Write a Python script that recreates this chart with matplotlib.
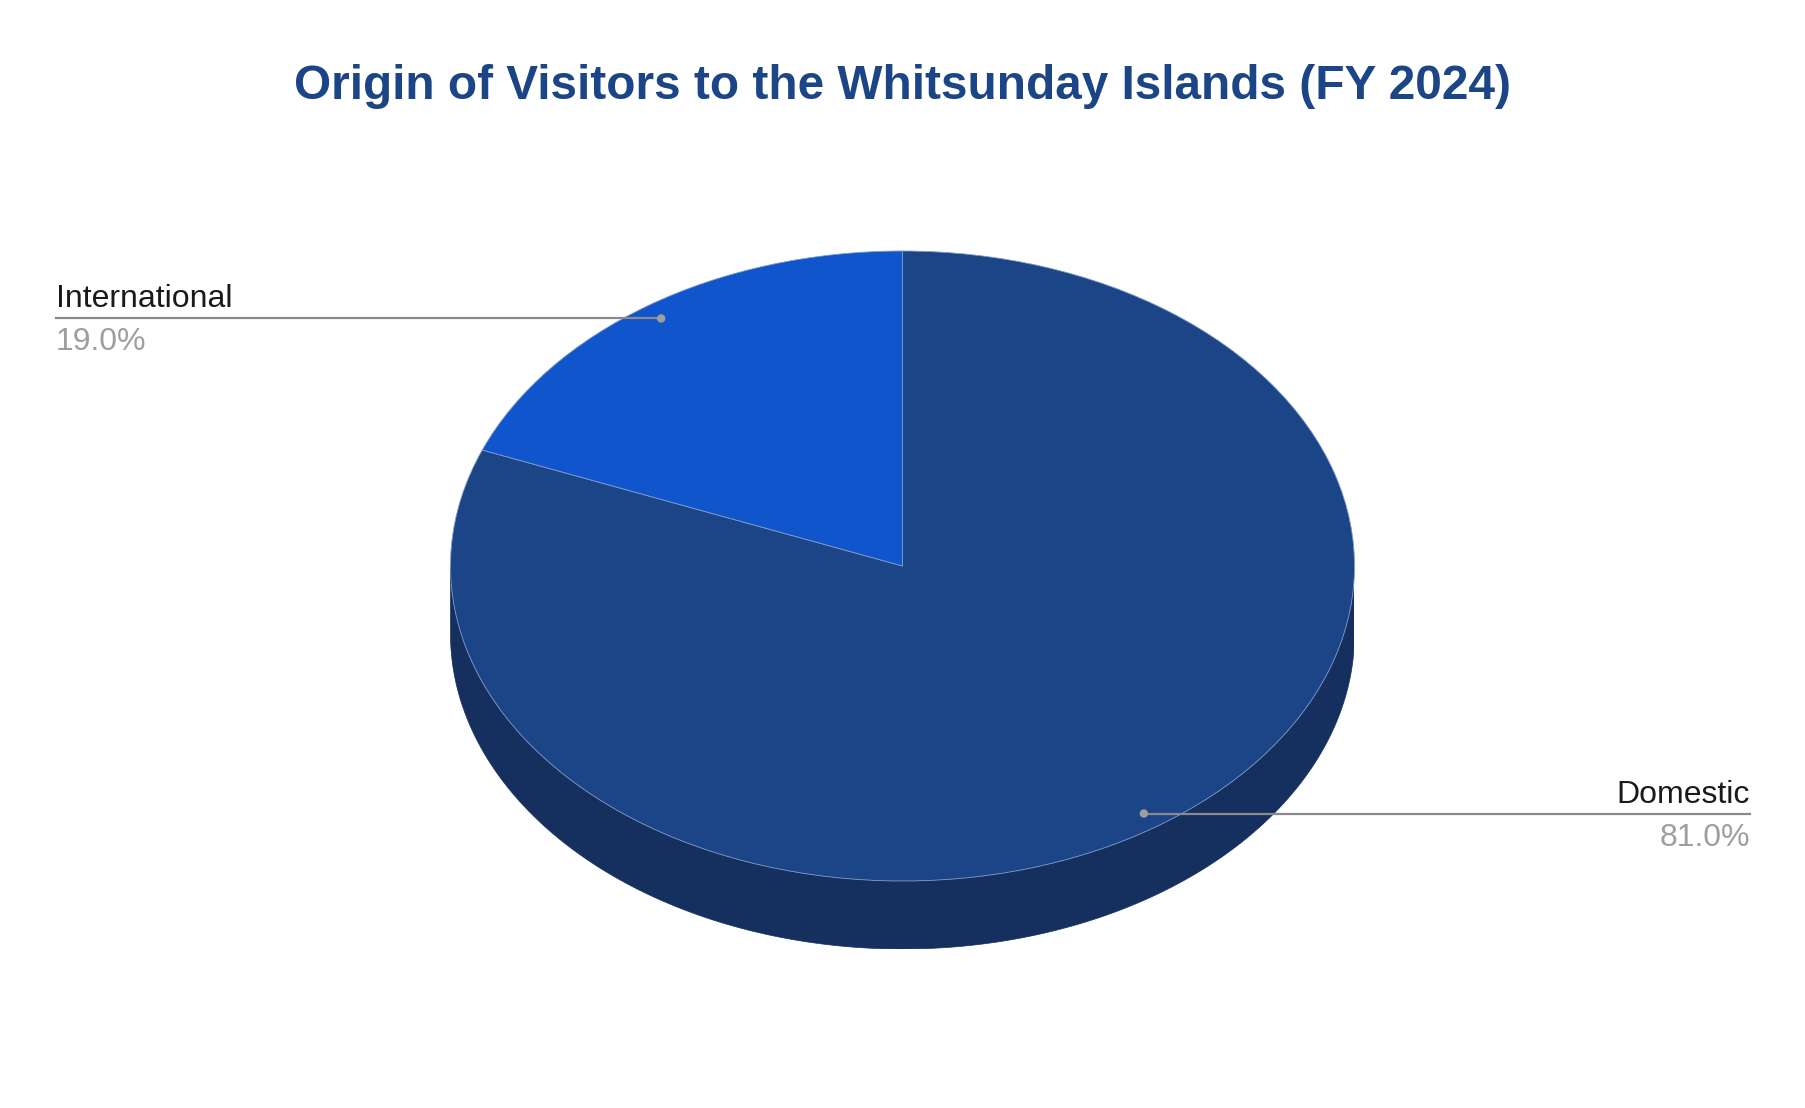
import numpy as np
import matplotlib
matplotlib.use("Agg")
import matplotlib.pyplot as plt
from matplotlib.patches import Polygon, Circle

# ---- data ----
categories = ["Domestic", "International"]
values = [81.0, 19.0]
pct_labels = ["81.0%", "19.0%"]
top_colors = ["#1c4587", "#1155cc"]
side_colors = ["#15305e", "#0d3f91"]
title = "Origin of Visitors to the Whitsunday Islands (FY 2024)"

W, H = 1806, 1108
fig = plt.figure(figsize=(W / 100, H / 100), dpi=100)
fig.patch.set_facecolor("white")

# pie geometry in pixels
cx, cy, rx, ry, depth = 902.5, 566.0, 452.0, 315.0, 68.0
d = depth / ry

ax = fig.add_axes([(cx - rx) / W, (H - (cy + ry + depth)) / H,
                   2 * rx / W, (2 * ry + depth) / H])

wedges, _ = ax.pie(values, colors=top_colors, startangle=90, counterclock=False,
                   radius=1.0, frame=True,
                   wedgeprops=dict(edgecolor="#7f9bc9", linewidth=0.6))
for w in wedges:
    w.set_zorder(3)
ax.set_aspect("auto")
ax.set_xlim(-1, 1)
ax.set_ylim(-1 - d, 1)
ax.axis("off")

# wedge angle ranges (degrees) derived from the data
total = sum(values)
ranges = []
start = 90.0
for v in values:
    span = 360.0 * v / total
    ranges.append((start - span, start))
    start -= span

# 3D side for the front half of each wedge
for (lo, hi), sc in zip(ranges, side_colors):
    for k in (-720, -360, 0, 360):
        a = max(lo + k, 180.0)
        b = min(hi + k, 360.0)
        if b > a:
            t = np.radians(np.linspace(a, b, 200))
            xs = np.cos(t)
            ys = np.sin(t)
            pts = np.concatenate([np.column_stack([xs, ys]),
                                  np.column_stack([xs[::-1], ys[::-1] - d])])
            ax.add_patch(Polygon(pts, closed=True, facecolor=sc,
                                 edgecolor=sc, linewidth=0.5, zorder=1))

# leader lines and labels
fig.canvas.draw()
to_fig = ax.transData + fig.transFigure.inverted()
left_x, right_x = 56 / W, 1 - 56 / W
for cat, pct, (lo, hi) in zip(categories, pct_labels, ranges):
    mid = np.radians((lo + hi) / 2.0)
    ax_pt = (0.95 * np.cos(mid), 0.95 * np.sin(mid))
    fx, fy = to_fig.transform(ax_pt)
    if np.cos(mid) < 0:
        ex, ha = left_x, "left"
    else:
        ex, ha = right_x, "right"
    fig.add_artist(plt.Line2D([fx, ex], [fy, fy], transform=fig.transFigure,
                              color="#8a8a8a", linewidth=1.6, zorder=5))
    fig.add_artist(Circle((fx * W, fy * H), 4.2, transform=None,
                          facecolor="#9e9e9e", edgecolor="none", zorder=6))
    fig.text(ex, fy + 11 / H, cat, ha=ha, va="baseline", fontsize=23,
             family="Liberation Sans", color="#1a1a1a")
    fig.text(ex, fy - 32 / H, pct, ha=ha, va="baseline", fontsize=23,
             family="Liberation Sans", color="#9e9e9e")

fig.text(903 / W, 1 - 99 / H, title, ha="center", va="baseline",
         fontsize=34.4, fontweight="bold", family="Liberation Sans",
         color="#1c4587")

fig.savefig("out.png", dpi=100, facecolor="white")
